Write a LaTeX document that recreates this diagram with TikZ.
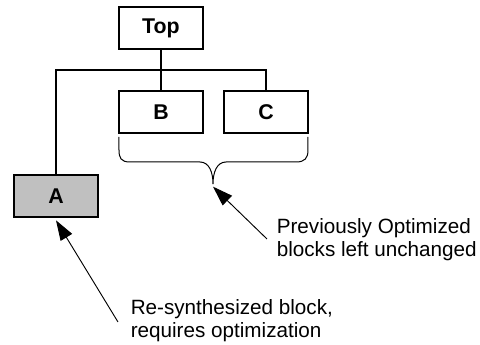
\documentclass[tikz,border=0pt]{standalone}
\usepackage{fontspec}
\setmainfont{Liberation Sans}
\usetikzlibrary{arrows.meta}
\begin{document}
\begin{tikzpicture}[x=0.75pt,y=-0.75pt,
  block/.style={draw=black, line width=1pt, minimum width=63pt, minimum height=31.5pt,
    inner sep=0pt, font=\fontsize{16}{18}\selectfont\bfseries},
  wire/.style={draw=black, line width=1pt},
  callout/.style={draw=black, line width=0.7pt, -{Triangle[length=15pt,width=10pt]}},
  note/.style={align=left, anchor=north west, inner sep=0pt, font=\fontsize{15.5}{17.6}\selectfont}]
\useasboundingbox (0,0) rectangle (480,345);
\node[block] (Top) at (161,28) {Top};
\node[block] (B) at (161,112) {B};
\node[block] (C) at (266,112) {C};
\node[block, fill={rgb,255:red,192;green,192;blue,192}] (A) at (56,196) {A};
\coordinate (j) at (161,70);
\draw[wire] (Top.south) -- (B.north);
\draw[wire] (A.north) |- (j) -| (C.north);
% brace
\coordinate (braceTip) at (213,184);
\draw[line width=0.75pt] (119,137) -- (119,150) .. controls (119,158) and (121,162) .. (130,162)
  -- (200,162) .. controls (209,162) and (213,172) .. (braceTip)
  .. controls (213,172) and (217,162) .. (226,162) -- (296,162)
  .. controls (305,162) and (308,158) .. (308,150) -- (308,137);
\node[note] (n1) at (276.5,218) {Previously Optimized\\blocks left unchanged};
\node[note] (n2) at (130.5,299) {Re-synthesized block,\\requires optimization};
\coordinate (t1) at (267,239);
\coordinate (t2) at (118,322);
\draw[callout] (t1) -- ([yshift=-2]braceTip);
\draw[callout] (t2) -- ([yshift=-2]A.south);
\end{tikzpicture}
\end{document}
